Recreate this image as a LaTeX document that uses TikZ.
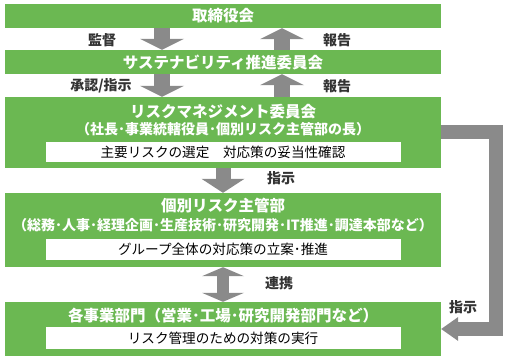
\documentclass[tikz,border=0pt]{standalone}
\usepackage{fontspec}
\setmainfont{Noto Sans CJK JP}
\usetikzlibrary{arrows.meta}
\definecolor{boxgreen}{HTML}{6BB852}
\definecolor{arrowgrey}{HTML}{8A8A8A}
\definecolor{labelgrey}{HTML}{333333}
\begin{document}
\begin{tikzpicture}[x=1pt,y=-1pt,
  gbox/.style={fill=boxgreen, draw=none, minimum width=436pt, inner sep=0pt},
  gtitle/.style={text=white, inner sep=0pt, font=\bfseries\fontsize{15.5}{17}\selectfont},
  gsub/.style={text=white, inner sep=0pt, font=\bfseries\fontsize{14}{16}\selectfont},
  wbox/.style={fill=white, draw=none, minimum width=355pt, inner sep=0pt, text=black, font=\fontsize{13.6}{15}\selectfont},
  lbl/.style={text=labelgrey, inner sep=0pt, font=\bfseries\fontsize{14}{16}\selectfont},
  fat/.style={draw=arrowgrey, line width=16pt},
  tipA/.style={-{Triangle[width=44pt,length=11pt,line width=0pt]}},
  tipB/.style={-{Triangle[width=43pt,length=14pt,line width=0pt]}},
  tipC/.style={{Triangle[width=42pt,length=9pt,line width=0pt]}-{Triangle[width=42pt,length=9pt,line width=0pt]}},
  tipD/.style={-{Triangle[width=24pt,length=17pt,line width=0pt]}}
]
\useasboundingbox (0,0) rectangle (511,363);
\fill[white] (0,0) rectangle (511,363);

% boxes
\node[gbox, minimum height=24pt] (b1) at (223,16) {};
\node[gtitle] (t1) at (223,16) {取締役会};
\node[gbox, minimum height=24pt] (b2) at (223,62) {};
\node[gtitle] (t2) at (223,62) {サステナビリティ推進委員会};
\node[gbox, minimum height=71pt] (b3) at (223,132.5) {};
\node[gtitle] (t3) at (223,112) {リスクマネジメント委員会};
\node[gsub] (s3) at (223,129) {（社長･事業統轄役員･個別リスク主管部の長）};
\node[wbox, minimum height=20pt] (w3) at (223,152) {主要リスクの選定　対応策の妥当性確認};
\node[gbox, minimum height=74pt] (b4) at (223,230) {};
\node[gtitle] (t4) at (223,206) {個別リスク主管部};
\node[gsub] (s4) at (223,225) {（総務･人事･経理企画･生産技術･研究開発･IT推進･調達本部など）};
\node[wbox, minimum height=21pt] (w4) at (223,249.5) {グループ全体の対応策の立案･推進};
\node[gbox, minimum height=54pt] (b5) at (223,329) {};
\node[gtitle] (t5) at (223,316) {各事業部門（営業･工場･研究開発部門など）};
\node[wbox, minimum height=22pt] (w5) at (223,338) {リスク管理のための対策の実行};

% arrows
\coordinate (cxL) at (162,0);
\coordinate (cxR) at (282,0);
\coordinate (rc) at (495.5,230);
\draw[fat,tipA] (b1.south -| cxL) -- (b2.north -| cxL);
\draw[fat,tipA] (b2.north -| cxR) -- (b1.south -| cxR);
\draw[fat,tipA] (b2.south -| cxL) -- (b3.north -| cxL);
\draw[fat,tipA] (b3.north -| cxR) -- (b2.south -| cxR);
\draw[fat,line width=15pt,tipB] (b3.south) -- (b4.north);
\draw[fat,line width=12pt,tipC] (b4.south) -- (b5.north);
\draw[draw=arrowgrey, line width=14pt, line join=miter, tipD] (b3.east) -| (rc) |- (b5.east);

% labels
\node[lbl] (l1) at (102,40) {監督};
\node[lbl] (l2) at (337,40) {報告};
\node[lbl] (l3) at (101,86) {承認/指示};
\node[lbl] (l4) at (337,86) {報告};
\node[lbl] (l5) at (281,178) {指示};
\node[lbl] (l6) at (279,283) {連携};
\node[lbl] (l7) at (463,307) {指示};
\end{tikzpicture}
\end{document}
